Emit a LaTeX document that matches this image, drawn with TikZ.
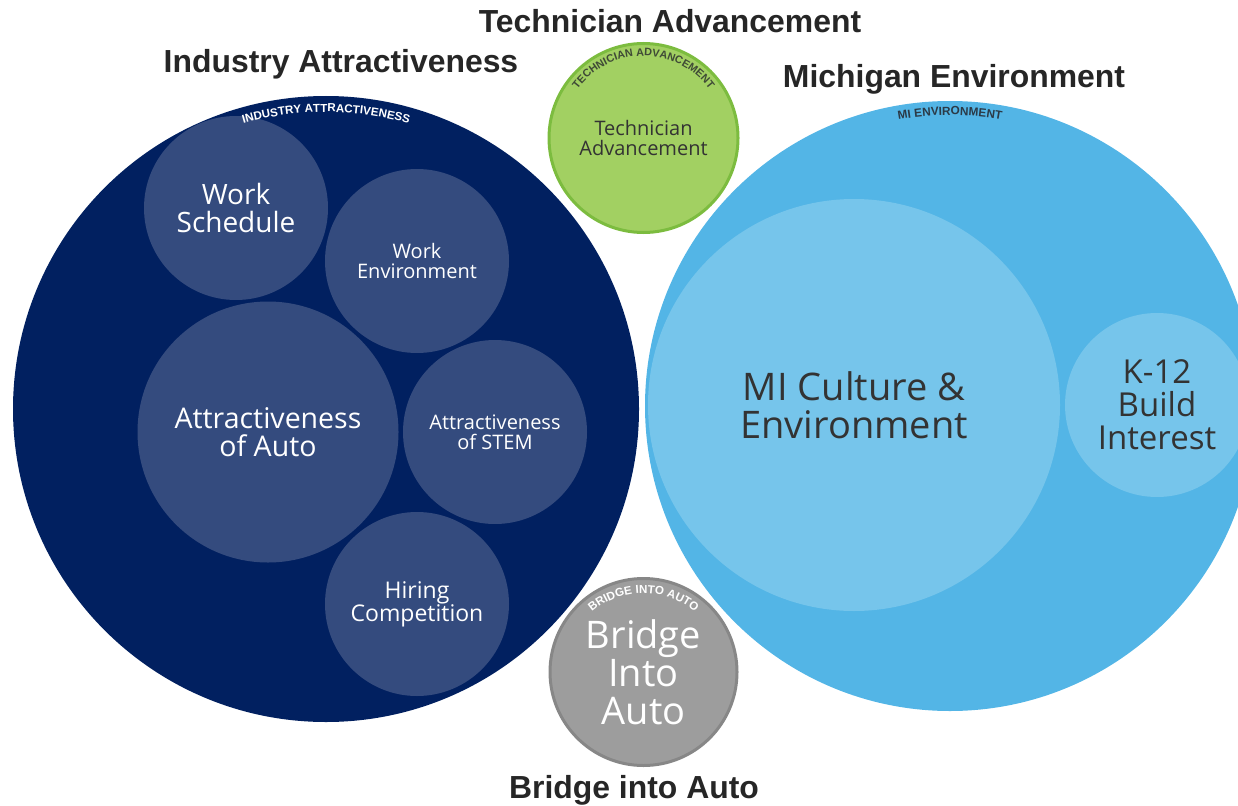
\documentclass[tikz,border=0pt]{standalone}
\usepackage{fontspec}
\newfontfamily\titlefont{Liberation Sans}
\newfontfamily\innerfont{Open Sans}
\usetikzlibrary{decorations.text}
\definecolor{navy}{HTML}{012060}
\definecolor{innav}{HTML}{344B7E}
\definecolor{mib}{HTML}{53B5E6}
\definecolor{mil}{HTML}{76C5EB}
\definecolor{greenf}{HTML}{A2D062}
\definecolor{greenb}{HTML}{7CBC3F}
\definecolor{grayf}{HTML}{9D9D9D}
\definecolor{grayb}{HTML}{878787}
\definecolor{darktxt}{HTML}{333333}
\definecolor{titlegray}{HTML}{262626}
\definecolor{arcdark}{HTML}{2B3A47}
\definecolor{techdark}{HTML}{3F4A36}
\begin{document}
\begin{tikzpicture}[x=1pt,y=1pt,
  bubble/.style={circle, inner sep=0pt, align=center},
  title/.style={anchor=base, text=titlegray, font=\titlefont\bfseries\fontsize{31.9}{32}\selectfont},
  fs/.style={font=\innerfont\fontsize{#1}{#1}\selectfont},
  arclabel/.style={decorate, decoration={text along path, text align=center, text={#1}}}
]
\clip (0,0) rectangle (1238,-805);
\useasboundingbox (0,0) rectangle (1238,-805);

% Michigan environment
\node[bubble, fill=mib, minimum size=610] (mi) at (950,-406) {};
\node[bubble, fill=mil, minimum size=412, text=darktxt, fs=38] (cult) at (854,-405) {MI Culture \&\\Environment};
\node[bubble, fill=mil, minimum size=184, text=darktxt, fs=33] (k12) at (1157,-405) {K-12\\Build\\Interest};
\path[arclabel={|\titlefont\bfseries\fontsize{11.8}{11.8}\selectfont\color{arcdark}|MI ENVIRONMENT}]
  (mi.center) ++(120:291) arc[start angle=120, end angle=60, radius=291];

% Industry attractiveness
\node[bubble, fill=navy, minimum size=626] (ia) at (326,-409) {};
\node[bubble, fill=innav, minimum size=184, text=white, fs=28] (ws) at (236,-208) {Work\\Schedule};
\node[bubble, fill=innav, minimum size=184, text=white, fs=20] (we) at (417,-261) {Work\\Environment};
\node[bubble, fill=innav, minimum size=261, text=white, fs=28.5] (aa) at (268,-432) {Attractiveness\\of Auto};
\node[bubble, fill=innav, minimum size=184, text=white, fs=20] (as) at (495,-432) {Attractiveness\\of STEM};
\node[bubble, fill=innav, minimum size=184, text=white, fs=23] (hc) at (417,-604) {Hiring\\Competition};
\path[arclabel={|\titlefont\bfseries\fontsize{11.6}{11.6}\selectfont\color{white}|INDUSTRY ATTRACTIVENESS}]
  (ia.center) ++(125:297) arc[start angle=125, end angle=55, radius=297];

% Technician advancement
\node[bubble, fill=greenf, draw=greenb, line width=3, minimum size=189, text=darktxt, fs=20] (tech) at (643.5,-138) {Technician\\Advancement};
\path[arclabel={|\titlefont\bfseries\fontsize{10.8}{10.8}\selectfont\color{techdark}|TECHNICIAN ADVANCEMENT}]
  (tech.center) ++(165:82) arc[start angle=165, end angle=15, radius=82];

% Bridge into auto
\node[bubble, fill=grayf, draw=grayb, line width=3, minimum size=187, text=white, fs=38] (bia) at (643.5,-672) {Bridge\\Into\\Auto};
\path[arclabel={|\titlefont\bfseries\fontsize{11.6}{11.6}\selectfont\color{white}|BRIDGE INTO AUTO}]
  (bia.center) ++(145:79) arc[start angle=145, end angle=35, radius=79];

% Titles
\node[title] (t1) at (670,-33) {Technician Advancement};
\node[title] (t2) at (341,-73) {Industry Attractiveness};
\node[title] (t3) at (954,-88) {Michigan Environment};
\node[title] (t4) at (634,-798) {Bridge into Auto};
\end{tikzpicture}
\end{document}
